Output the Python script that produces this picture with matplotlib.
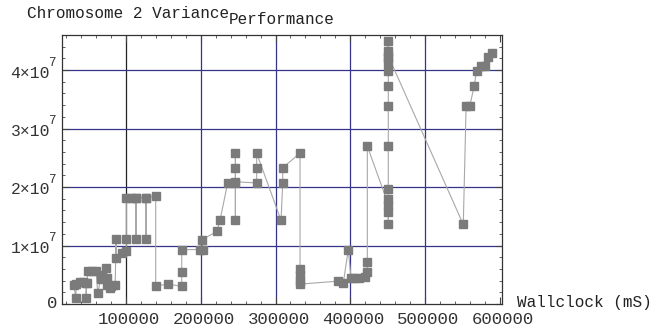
import matplotlib
matplotlib.use("Agg")
import matplotlib.pyplot as plt
import matplotlib.transforms as mtransforms
from matplotlib.ticker import FixedLocator

plt.rcParams['font.family'] = ['Liberation Mono', 'DejaVu Sans Mono', 'DejaVu Sans']

# Data (wallclock in mS, variance)
wallclock = [30000, 32800, 33500, 38000, 42000, 46500, 46500, 47500, 49000, 55000,
             60000, 62100, 66000, 68000, 73500, 74000, 75000, 78000, 80000, 85500,
             86600, 86600, 94500, 100400, 100400, 100400, 106000, 113400, 113400, 113400,
             126800, 126800, 126800, 139700, 139700, 156600, 174500, 174500, 174500, 199000,
             202600, 201300, 221700, 225700, 236000, 246300, 246300, 246300, 246300, 246300,
             274800, 274800, 274800, 307400, 309600, 309600, 332800, 332800, 332800, 332800,
             332800, 383200, 390700, 397300, 401000, 405000, 412000, 420000, 422800, 422800,
             422800, 450900, 450900, 450900, 450900, 450900, 450900, 450900, 450900, 450900,
             450900, 450900, 450900, 450900, 450900, 551200, 555000, 560000, 565600,
             569200, 575000, 580000, 584700, 589200]
variance = [3.3e6, 1.1e6, 3.5e6, 3.7e6, 3.7e6, 3.6e6, 1.1e6, 3.6e6, 5.6e6, 5.6e6,
            5.6e6, 1.9e6, 4.2e6, 4.9e6, 6.1e6, 4.5e6, 3.3e6, 2.8e6, 3.0e6, 3.3e6,
            11.1e6, 7.9e6, 8.8e6, 9.1e6, 11.1e6, 18.1e6, 18.2e6, 18.2e6, 11.1e6, 18.2e6,
            18.2e6, 11.1e6, 18.2e6, 18.4e6, 3.1e6, 3.4e6, 3.0e6, 5.4e6, 9.3e6, 9.3e6,
            9.3e6, 11.0e6, 12.4e6, 14.3e6, 20.7e6, 20.7e6, 14.3e6, 23.3e6, 25.8e6, 20.9e6,
            20.7e6, 23.3e6, 25.8e6, 14.3e6, 20.7e6, 23.3e6, 25.8e6, 6.0e6, 5.0e6, 4.0e6,
            3.4e6, 3.9e6, 3.6e6, 9.3e6, 4.5e6, 4.4e6, 4.4e6, 4.6e6, 5.5e6, 7.2e6,
            27.0e6, 17.0e6, 15.7e6, 13.6e6, 18.0e6, 19.6e6, 27.0e6, 33.9e6, 37.2e6, 39.8e6,
            41.2e6, 42.0e6, 45.0e6, 43.2e6, 42.4e6, 13.6e6, 33.9e6, 33.9e6, 37.2e6,
            39.9e6, 40.7e6, 40.7e6, 42.3e6, 43.0e6]

x_major = [100000, 200000, 300000, 400000, 500000, 600000]
x_labels = ["100000", "200000", "300000", "400000", "500000", "600000"]
y_major = [0, 1e7, 2e7, 3e7, 4e7]
y_mantissa = ["0", "1×10", "2×10", "3×10", "4×10"]
y_exponent = ["", "7", "7", "7", "7"]

W, H = 661, 331
fig = plt.figure(figsize=(W / 100, H / 100), dpi=100)
left, right, top, bottom = 62.5, 502, 35, 304
ax = fig.add_axes([left / W, 1 - bottom / H, (right - left) / W, (bottom - top) / H])

navy = "#343488"
for xv in x_major[1:5]:
    ax.axvline(xv, color=navy, lw=0.9, zorder=1)
ax.axvline(x_major[0], color="#222222", lw=0.9, zorder=1)
for yv in y_major[1:]:
    ax.axhline(yv, color=navy, lw=0.9, zorder=1)

ax.plot(wallclock, variance, color="#a8a8a8", lw=0.8, zorder=2)
ax.plot(wallclock, variance, ls="none", marker="s", ms=5.8, color="#7b7b7b",
        mec="#7b7b7b", zorder=3)

ax.set_xlim(15000, 603000)
ax.set_ylim(0, 4.6e7)

ax.xaxis.set_major_locator(FixedLocator(x_major))
ax.xaxis.set_minor_locator(FixedLocator([v for v in range(20000, 603000, 20000) if v % 100000]))
ax.yaxis.set_major_locator(FixedLocator(y_major))
ax.yaxis.set_minor_locator(FixedLocator([v * 1e6 for v in range(2, 46, 2) if v % 10]))
ax.set_xticklabels(x_labels)
ax.set_yticklabels([])

ax.tick_params(which="both", direction="in", top=True, right=True, color="#444444",
               labelsize=12.5, labelcolor="#333333")
ax.tick_params(which="major", length=5, width=0.8, pad=6)
ax.tick_params(which="minor", length=2.5, width=0.6)
for s in ax.spines.values():
    s.set_color("#333333")
    s.set_linewidth(0.9)

shift = mtransforms.ScaledTranslation(3 / 100, 0, fig.dpi_scale_trans)
for lbl in ax.get_xticklabels():
    lbl.set_transform(lbl.get_transform() + shift)

# y tick labels: mantissa + raised exponent, right-aligned left of the frame
trans = ax.get_yaxis_transform()
for yv, m, e in zip(y_major, y_mantissa, y_exponent):
    if e:
        ax.text(-0.0165, yv + 0.02e7, e, transform=trans, ha="right", va="bottom",
                fontsize=9, color="#333333", clip_on=False)
        ax.text(-0.0285, yv - 0.05e7, m, transform=trans, ha="right", va="center",
                fontsize=11.8, color="#333333", clip_on=False)
    else:
        ax.text(-0.012, yv, m, transform=trans, ha="right", va="center",
                fontsize=12.5, color="#333333", clip_on=False)

fig.text(27 / W, 1 - 14 / H, "Chromosome 2 Variance", fontsize=11.5, color="#222222",
         ha="left", va="center")
fig.text(282 / W, 1 - 19 / H, "Performance", fontsize=11.5, color="#222222",
         ha="center", va="center")
fig.text(517 / W, 1 - 303 / H, "Wallclock (mS)", fontsize=11.5, color="#222222",
         ha="left", va="center")

fig.savefig("out.png", dpi=100)
